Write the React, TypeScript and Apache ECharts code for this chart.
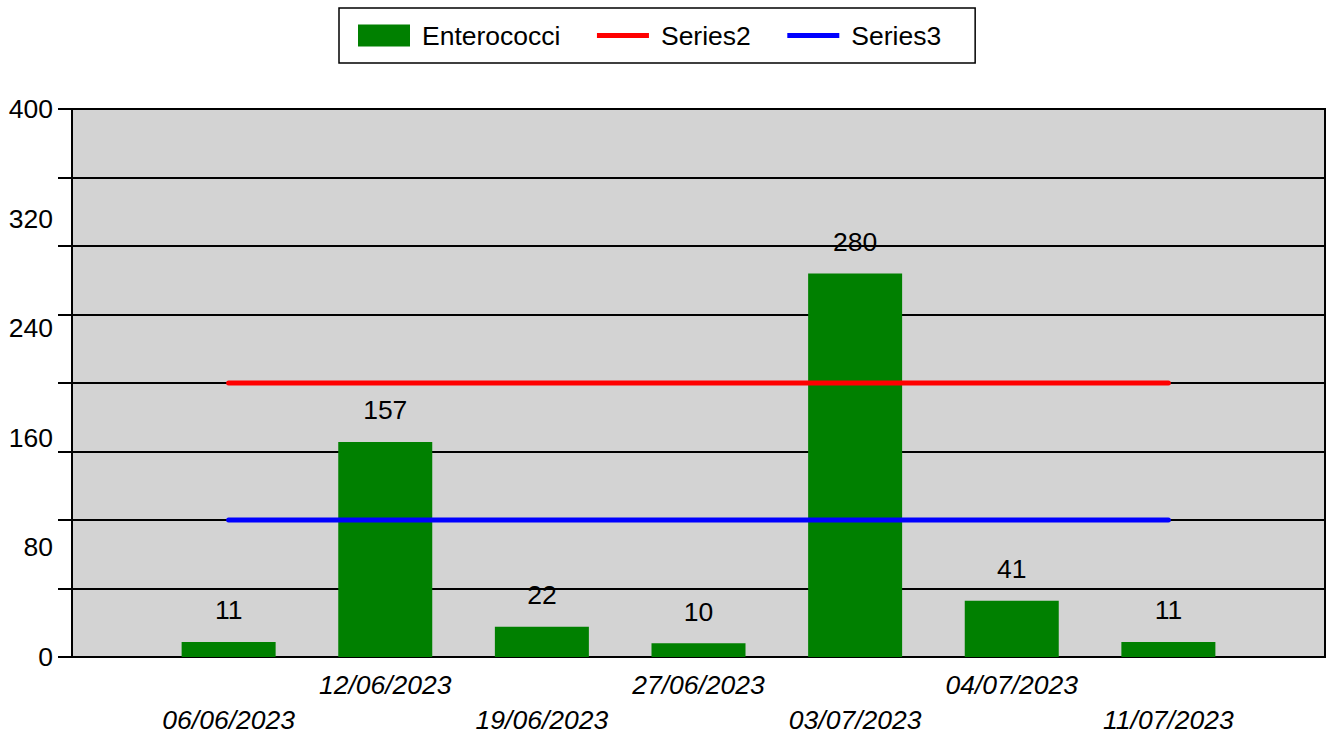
import React, { useEffect, useRef } from "react";
import * as echarts from "echarts";

const categories = [
  "06/06/2023",
  "12/06/2023",
  "19/06/2023",
  "27/06/2023",
  "03/07/2023",
  "04/07/2023",
  "11/07/2023",
];
const enterococci = [11, 157, 22, 10, 280, 41, 11];
const series2 = [200, 200, 200, 200, 200, 200, 200];
const series3 = [100, 100, 100, 100, 100, 100, 100];
const yMax = 400;
const yGridStep = 50;
const yLabelStep = 80;

const FONT = "'Liberation Sans', Arial, sans-serif";
const FS = 26.5;
const LINE_ICON = "path://M0,0L52,0L52,5L0,5Z";

export default function App() {
  const ref = useRef<HTMLDivElement>(null);
  useEffect(() => {
    document.body.style.margin = "0";
    const chart = echarts.init(ref.current!, null, { renderer: "svg" });
    const pts = (arr: number[]) => arr.map((v, i) => [i + 1, v]);
    chart.setOption({
      animation: false,
      textStyle: { fontFamily: FONT },
      legend: {
        left: 339,
        top: 8,
        padding: [14, 34, 14, 19],
        borderColor: "#000",
        borderWidth: 1.5,
        itemWidth: 52,
        itemHeight: 22,
        itemGap: 36.5,
        textStyle: { fontSize: FS, color: "#000", fontFamily: FONT, padding: [0, 0, 0, 7] },
        data: [
          { name: "Enterococci", icon: "rect" },
          { name: "Series2", icon: LINE_ICON },
          { name: "Series3", icon: LINE_ICON },
        ],
      },
      grid: {
        left: 72,
        right: 6,
        top: 109,
        bottom: 79,
        show: true,
        backgroundColor: "#d3d3d3",
        borderColor: "#000",
        borderWidth: 2,
      },
      xAxis: {
        type: "value",
        min: 0,
        max: categories.length + 1,
        interval: 1,
        splitLine: { show: false },
        axisTick: { show: false },
        axisLine: { show: true, lineStyle: { color: "#000", width: 2 } },
        axisLabel: {
          showMinLabel: true,
          showMaxLabel: true,
          fontSize: FS,
          fontStyle: "italic",
          color: "#000",
          fontFamily: FONT,
          lineHeight: 35,
          margin: 10,
          verticalAlign: "top",
          formatter: (v: number) => {
            const i = Math.round(v) - 1;
            if (i < 0 || i >= categories.length) return "";
            return i % 2 === 0 ? "\n" + categories[i] : categories[i];
          },
        },
      },
      yAxis: [
        {
          type: "value",
          min: 0,
          max: yMax,
          interval: yGridStep,
          axisLine: { show: true, lineStyle: { color: "#000", width: 2 } },
          axisTick: { show: true, length: 14, lineStyle: { color: "#000", width: 2 } },
          splitLine: { show: true, lineStyle: { color: "#000", width: 2 } },
          axisLabel: { show: false },
        },
        {
          type: "value",
          position: "left",
          min: 0,
          max: yMax,
          interval: yLabelStep,
          axisLine: { show: false },
          axisTick: { show: false },
          splitLine: { show: false },
          axisLabel: {
            fontSize: FS,
            color: "#000",
            fontFamily: FONT,
            margin: 19,
          },
        },
      ],
      series: [
        {
          name: "Enterococci",
          type: "bar",
          yAxisIndex: 0,
          data: pts(enterococci),
          barWidth: 94,
          itemStyle: { color: "#008000" },
          label: {
            show: true,
            position: "top",
            distance: 18,
            fontSize: FS,
            color: "#000",
            fontFamily: FONT,
            formatter: (p: any) => String(p.value[1]),
          },
        },
        {
          name: "Series2",
          type: "line",
          yAxisIndex: 0,
          data: pts(series2),
          symbol: "none",
          lineStyle: { color: "#ff0000", width: 5, cap: "round" },
          itemStyle: { color: "#ff0000" },
        },
        {
          name: "Series3",
          type: "line",
          yAxisIndex: 0,
          data: pts(series3),
          symbol: "none",
          lineStyle: { color: "#0000ff", width: 5, cap: "round" },
          itemStyle: { color: "#0000ff" },
        },
      ],
    });
    return () => chart.dispose();
  }, []);
  return <div ref={ref} style={{ width: 1331, height: 737 }} />;
}
